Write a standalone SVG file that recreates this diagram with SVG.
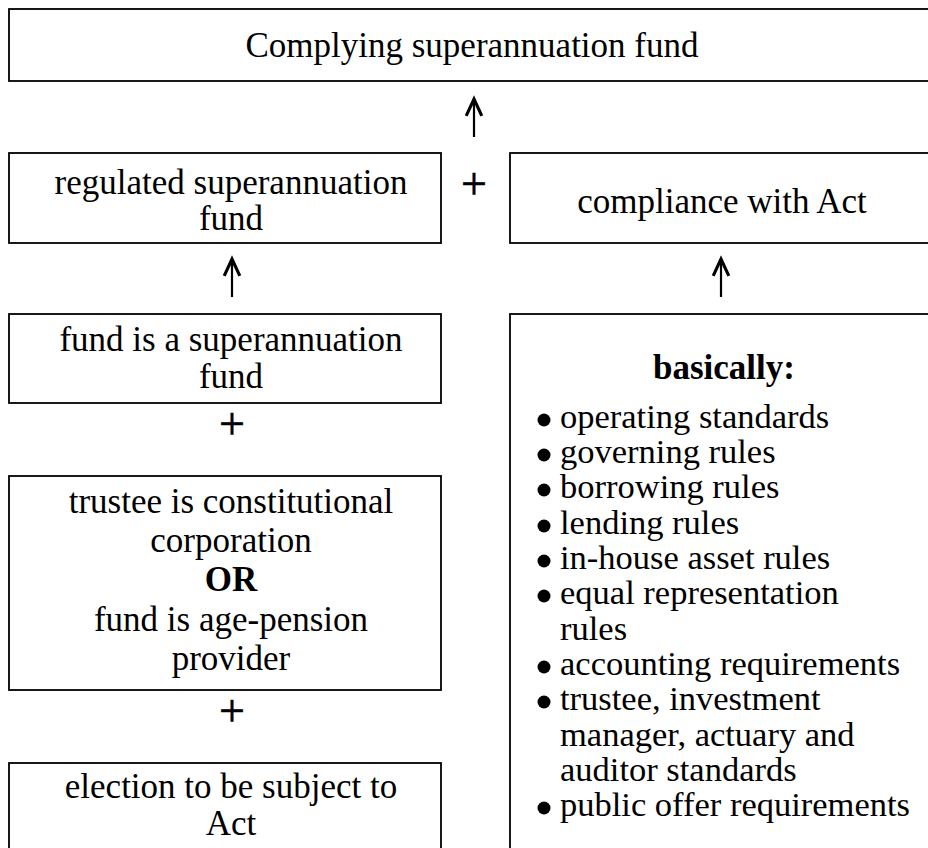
<svg xmlns="http://www.w3.org/2000/svg" width="928" height="848" viewBox="0 0 928 848">
  <defs>
    <style>
      .box { fill: #ffffff; stroke: #000000; stroke-width: 1.8; }
      .t { font-family: "Liberation Serif", "Times New Roman", serif; font-size: 35px; fill: #000000; text-anchor: middle; }
      .b { font-weight: bold; }
      .li { font-family: "Liberation Serif", "Times New Roman", serif; font-size: 34.5px; fill: #000000; }
      .plus { font-family: "Liberation Serif", "Times New Roman", serif; font-size: 46px; fill: #000000; stroke: #000000; stroke-width: 0.6; text-anchor: middle; }
      .arrow { stroke: #000000; stroke-width: 2.2; fill: none; }
      .dot { fill: #000000; }
    </style>
    <marker id="head" markerUnits="userSpaceOnUse" markerWidth="24" markerHeight="24" refX="0" refY="0" viewBox="-16 -10 20 20" orient="auto" overflow="visible">
      <path d="M-14,-6.5 L0,0 L-14,6.5" fill="none" stroke="#000000" stroke-width="2.6" stroke-linejoin="miter"/>
    </marker>
  </defs>
  <rect width="928" height="848" fill="#ffffff"/>

  <g id="complying-fund">
    <rect class="box" x="9" y="9" width="930" height="72"/>
    <text class="t" x="472" y="57">Complying superannuation fund</text>
  </g>

  <g id="regulated-fund">
    <rect class="box" x="9" y="153" width="432" height="90"/>
    <text class="t" x="231" y="194">regulated superannuation</text>
    <text class="t" x="231" y="230">fund</text>
  </g>

  <g id="compliance-act">
    <rect class="box" x="510" y="153" width="430" height="90"/>
    <text class="t" x="722" y="213">compliance with Act</text>
  </g>

  <g id="fund-is-super">
    <rect class="box" x="9" y="314" width="432" height="89"/>
    <text class="t" x="231" y="351">fund is a superannuation</text>
    <text class="t" x="231" y="388">fund</text>
  </g>

  <g id="trustee-or-provider">
    <rect class="box" x="9" y="476" width="432" height="214"/>
    <text class="t" x="231" y="513">trustee is constitutional</text>
    <text class="t" x="231" y="552">corporation</text>
    <text class="t b" x="231" y="591">OR</text>
    <text class="t" x="231" y="631">fund is age-pension</text>
    <text class="t" x="231" y="670">provider</text>
  </g>

  <g id="election">
    <rect class="box" x="9" y="763" width="432" height="100"/>
    <text class="t" x="231" y="798">election to be subject to</text>
    <text class="t" x="231" y="835">Act</text>
  </g>

  <g id="basically-list">
    <rect class="box" x="510" y="314" width="430" height="550"/>
    <text class="t b" x="724" y="379">basically:</text>
    <circle class="dot" cx="544" cy="420" r="6.5"/>
    <text class="li" x="560" y="428">operating standards</text>
    <circle class="dot" cx="544" cy="455" r="6.5"/>
    <text class="li" x="560" y="463">governing rules</text>
    <circle class="dot" cx="544" cy="490" r="6.5"/>
    <text class="li" x="560" y="498">borrowing rules</text>
    <circle class="dot" cx="544" cy="526" r="6.5"/>
    <text class="li" x="560" y="534">lending rules</text>
    <circle class="dot" cx="544" cy="561" r="6.5"/>
    <text class="li" x="560" y="569">in-house asset rules</text>
    <circle class="dot" cx="544" cy="596" r="6.5"/>
    <text class="li" x="560" y="604">equal representation</text>
    <text class="li" x="560" y="640">rules</text>
    <circle class="dot" cx="544" cy="667" r="6.5"/>
    <text class="li" x="560" y="675">accounting requirements</text>
    <circle class="dot" cx="544" cy="702" r="6.5"/>
    <text class="li" x="560" y="710">trustee, investment</text>
    <text class="li" x="560" y="746">manager, actuary and</text>
    <text class="li" x="560" y="781">auditor standards</text>
    <circle class="dot" cx="544" cy="808" r="6.5"/>
    <text class="li" x="560" y="816">public offer requirements</text>
  </g>

  <g id="connectors">
    <line class="arrow" x1="474" y1="137" x2="474" y2="99" marker-end="url(#head)"/>
    <line class="arrow" x1="232" y1="297" x2="232" y2="259" marker-end="url(#head)"/>
    <line class="arrow" x1="721" y1="297" x2="721" y2="259" marker-end="url(#head)"/>
    <text class="plus" x="474" y="199">+</text>
    <text class="plus" x="232" y="439">+</text>
    <text class="plus" x="232" y="726">+</text>
  </g>
</svg>
